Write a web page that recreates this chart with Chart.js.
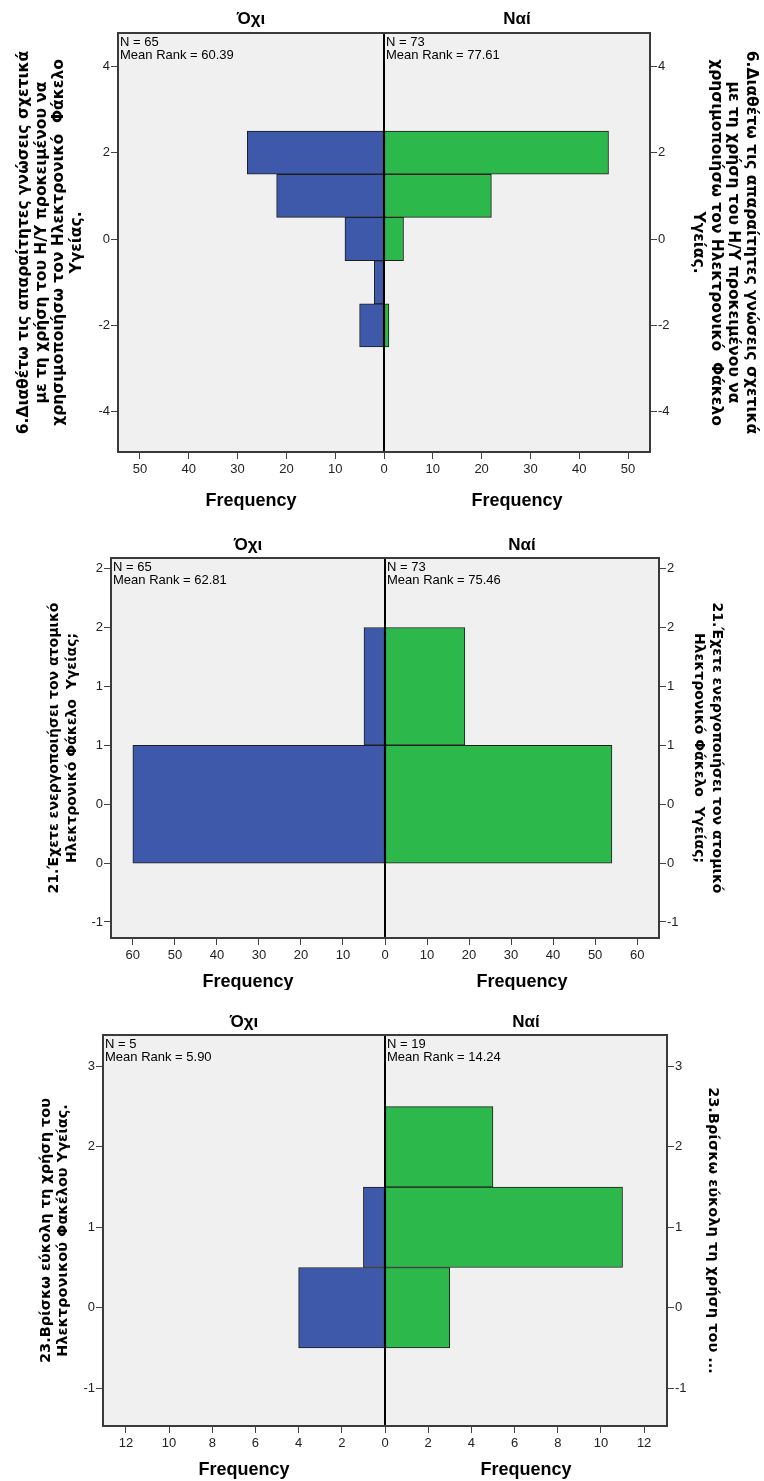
<!DOCTYPE html>
<html>
<head>
<meta charset="utf-8">
<script src="https://cdn.jsdelivr.net/npm/chart.js@4.4.1/dist/chart.umd.min.js"></script>
<style>
  html, body { margin: 0; padding: 0; background: #ffffff; }
  .panel { position: absolute; left: 0; width: 764px; }
</style>
</head>
<body>
<div class="panel" style="top:0;height:520px"><canvas id="q6"></canvas></div>
<div class="panel" style="top:520px;height:470px"><canvas id="q21"></canvas></div>
<div class="panel" style="top:990px;height:491px"><canvas id="q23"></canvas></div>
<script>
// ---- data ----
const groups = ['Όχι', 'Ναί'];

// 6. knowledge of computers for the e-health record
const q6Bins = [2, 1, 0, -1, -2];
const q6No = [28, 22, 8, 2, 5];
const q6Yes = [46, 22, 4, 0, 1];
const q6N = [65, 73];
const q6MeanRank = ['60.39', '77.61'];
const q6YTicks = [4, 2, 0, -2, -4];
const q6YTickLabels = ['4', '2', '0', '-2', '-4'];
const q6FreqTicks = [-50, -40, -30, -20, -10, 0, 10, 20, 30, 40, 50];
const q6TitleLeft = ['6.Διαθέτω τις απαραίτητες γνώσεις σχετικά', 'με τη χρήση του Η/Υ προκειμένου να', 'χρησιμοποιήσω τον Ηλεκτρονικό  Φάκελο', 'Υγείας.'];
const q6TitleRight = q6TitleLeft;

// 21. activated the personal e-health record
const q21Bins = [1, 0];
const q21No = [5, 60];
const q21Yes = [19, 54];
const q21N = [65, 73];
const q21MeanRank = ['62.81', '75.46'];
const q21YTicks = [2, 1.5, 1, 0.5, 0, -0.5, -1];
const q21YTickLabels = ['2', '2', '1', '1', '0', '0', '-1'];
const q21FreqTicks = [-60, -50, -40, -30, -20, -10, 0, 10, 20, 30, 40, 50, 60];
const q21TitleLeft = ['21.Έχετε ενεργοποιήσει τον ατομικό', 'Ηλεκτρονικό Φάκελο  Υγείας;'];
const q21TitleRight = q21TitleLeft;

// 23. ease of use of the e-health record
const q23Bins = [2, 1, 0];
const q23No = [0, 1, 4];
const q23Yes = [5, 11, 3];
const q23N = [5, 19];
const q23MeanRank = ['5.90', '14.24'];
const q23YTicks = [3, 2, 1, 0, -1];
const q23YTickLabels = ['3', '2', '1', '0', '-1'];
const q23FreqTicks = [-12, -10, -8, -6, -4, -2, 0, 2, 4, 6, 8, 10, 12];
const q23TitleLeft = ['23.Βρίσκω εύκολη τη χρήση του', 'Ηλεκτρονικού Φακέλου Υγείας.'];
const q23TitleRight = ['23.Βρίσκω εύκολη τη χρήση του ...'];

// ---- styling ----
const FONT = "'Liberation Sans', Arial, sans-serif";
const TITLE_FONT = "'DejaVu Sans', Verdana, sans-serif";
const BLUE = '#3e58aa';
const GREEN = '#2db84b';
const PLOT_BG = '#f0f0f0';

// Background, frame, zero line and text decorations of a back-to-back histogram
const pyramidDecor = {
  id: 'pyramidDecor',
  beforeDraw(chart) {
    const a = chart.chartArea, ctx = chart.ctx;
    ctx.save();
    ctx.fillStyle = PLOT_BG;
    ctx.fillRect(a.left, a.top, a.right - a.left, a.bottom - a.top);
    ctx.restore();
  },
  afterDatasetsDraw(chart, args, o) {
    const a = chart.chartArea, ctx = chart.ctx;
    const x0 = chart.scales.x.getPixelForValue(0);
    ctx.save();
    // zero line
    ctx.strokeStyle = '#000';
    ctx.lineWidth = 2;
    ctx.beginPath();
    ctx.moveTo(x0, a.top);
    ctx.lineTo(x0, a.bottom);
    ctx.stroke();
    // frame
    ctx.strokeStyle = '#3a3a3a';
    ctx.lineWidth = 2;
    ctx.strokeRect(a.left, a.top, a.right - a.left, a.bottom - a.top);
    // N / mean rank notes
    ctx.fillStyle = '#000';
    ctx.font = '13px ' + FONT;
    ctx.textAlign = 'left';
    ctx.textBaseline = 'top';
    const noteX = [a.left + 2, x0 + 2];
    for (let i = 0; i < 2; i++) {
      ctx.fillText('N = ' + o.n[i], noteX[i], a.top + 2.5);
      ctx.fillText('Mean Rank = ' + o.meanRank[i], noteX[i], a.top + 2.5 + 13.3);
    }
    // group headers and frequency captions
    const mids = [(a.left + x0) / 2, (x0 + a.right) / 2];
    ctx.textAlign = 'center';
    ctx.textBaseline = 'alphabetic';
    for (let i = 0; i < 2; i++) {
      ctx.font = 'bold 17px ' + FONT;
      ctx.fillText(o.groups[i], mids[i], a.top - o.headGap);
      ctx.font = 'bold 18px ' + FONT;
      ctx.fillText('Frequency', mids[i], a.bottom + o.freqGap);
    }
    ctx.restore();
  }
};

function buildPanel(id, bins, no, yes, n, meanRank, yTicks, yLabels, freqTicks, titleL, titleR, L) {
  const tickFont = { family: FONT, size: 13 };
  const titleFont = { family: TITLE_FONT, size: L.titleSize, weight: 'bold', lineHeight: '17.7px' };
  const grid = { drawOnChartArea: false, drawTicks: true, tickLength: 7, color: '#444', lineWidth: 1, offset: false };
  const yAxis = (pos, title, titlePad, width) => ({
    type: 'linear', position: pos, min: L.yMin, max: L.yMax, offset: false,
    afterBuildTicks: s => { s.ticks = yTicks.map(v => ({ value: v })); },
    ticks: { font: tickFont, color: '#222', padding: 1, autoSkip: false, callback: (v, i) => yLabels[i] },
    grid: grid,
    border: { display: false },
    title: { display: true, text: title, color: '#000', font: titleFont, padding: { top: titlePad, bottom: 0 } },
    afterFit: s => { s.width = width; }
  });
  return new Chart(document.getElementById(id), {
    type: 'bar',
    data: {
      datasets: [
        {
          label: groups[0],
          data: bins.map((b, i) => ({ y: b, x: -no[i] })),
          backgroundColor: BLUE, borderColor: '#1e1e1e', borderWidth: 1, borderSkipped: false,
          xAxisID: 'x', yAxisID: 'yb', grouped: false, barPercentage: 1, categoryPercentage: 1
        },
        {
          label: groups[1],
          data: bins.map((b, i) => ({ y: b, x: yes[i] })),
          backgroundColor: GREEN, borderColor: '#1e1e1e', borderWidth: 1, borderSkipped: false,
          xAxisID: 'x', yAxisID: 'yb', grouped: false, barPercentage: 1, categoryPercentage: 1
        }
      ]
    },
    options: {
      indexAxis: 'y',
      responsive: true,
      maintainAspectRatio: false,
      animation: false,
      events: [],
      layout: { padding: { top: L.top, left: 0, right: 0, bottom: 0 } },
      scales: {
        x: {
          type: 'linear', position: 'bottom', min: -L.xMax, max: L.xMax,
          afterBuildTicks: s => { s.ticks = freqTicks.map(v => ({ value: v })); },
          ticks: { font: tickFont, color: '#222', padding: 3, maxRotation: 0, autoSkip: false, callback: v => String(Math.abs(v)) },
          grid: grid,
          border: { display: false },
          afterFit: s => { s.height = L.xHeight; }
        },
        yb: {
          type: 'linear', display: false, min: L.yMin, max: L.yMax, offset: false,
          afterBuildTicks: s => { s.ticks = bins.map(v => ({ value: v })); },
          grid: { offset: false }
        },
        y: yAxis('left', titleL, L.titlePadL, L.leftW),
        y2: yAxis('right', titleR, L.titlePadR, L.rightW)
      },
      plugins: {
        legend: { display: false },
        tooltip: { enabled: false },
        pyramidDecor: { groups: groups, n: n, meanRank: meanRank, headGap: L.headGap, freqGap: L.freqGap }
      }
    },
    plugins: [pyramidDecor]
  });
}

buildPanel('q6', q6Bins, q6No, q6Yes, q6N, q6MeanRank, q6YTicks, q6YTickLabels, q6FreqTicks, q6TitleLeft, q6TitleRight,
  { top: 33, leftW: 118, rightW: 114, xHeight: 68, yMin: -4.93, yMax: 4.77, xMax: 54.5, titleSize: 15.5,
    titlePadL: 15, titlePadR: 4, headGap: 9, freqGap: 54 });

buildPanel('q21', q21Bins, q21No, q21Yes, q21N, q21MeanRank, q21YTicks, q21YTickLabels, q21FreqTicks, q21TitleLeft, q21TitleRight,
  { top: 38, leftW: 111, rightW: 105, xHeight: 52, yMin: -1.136, yMax: 2.09, xMax: 65.2, titleSize: 14,
    titlePadL: 46, titlePadR: 39, headGap: 8, freqGap: 49 });

buildPanel('q23', q23Bins, q23No, q23Yes, q23N, q23MeanRank, q23YTicks, q23YTickLabels, q23FreqTicks, q23TitleLeft, q23TitleRight,
  { top: 45, leftW: 103, rightW: 97, xHeight: 55, yMin: -1.47, yMax: 3.39, xMax: 13.06, titleSize: 14.5,
    titlePadL: 37, titlePadR: 42, headGap: 8, freqGap: 49 });
</script>
</body>
</html>
